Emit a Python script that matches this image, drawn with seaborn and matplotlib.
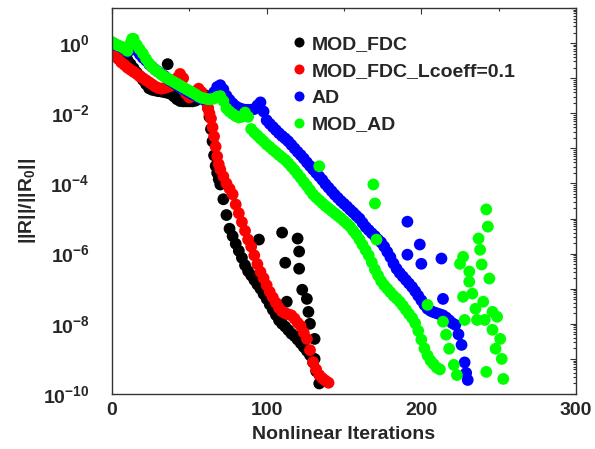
"""
Residual convergence history: ||R||/||R0|| vs nonlinear iterations
"""

import numpy as np
import pandas as pd
import seaborn as sns
import matplotlib.pyplot as plt
from matplotlib.ticker import MultipleLocator, LogLocator, FuncFormatter, NullFormatter

# Series names and colours
labels = ['MOD_FDC', 'MOD_FDC_Lcoeff=0.1', 'AD', 'MOD_AD']
colors = ['#000000', '#ff0000', '#0000ff', '#00ff00']

# MOD_FDC - main curve (iteration, log10 residual)
fdc_x = [0, 2, 4, 6, 8, 10, 12, 14, 16, 18, 20, 22, 24, 26, 28, 30, 32, 34, 36, 38,
         40, 42, 44, 46, 48, 50, 52, 54, 56, 58, 60, 61, 62, 63, 64, 65, 66, 67, 68, 69,
         70, 72, 74, 76, 78, 80, 82, 84, 86, 88, 90, 92, 94, 96, 98, 100, 102, 104, 106, 108,
         110, 112, 114, 116, 118, 120, 122, 124, 126, 128, 130, 132, 134]
fdc_log = [0.0, -0.05, -0.12, -0.22, -0.35, -0.48, -0.6, -0.72, -0.84, -0.94,
           -1.05, -1.17, -1.29, -1.33, -1.35, -1.37, -1.38, -1.4, -1.42, -1.45,
           -1.52, -1.6, -1.65, -1.66, -1.66, -1.66, -1.66, -1.64, -1.58, -1.5,
           -1.48, -1.62, -1.85, -2.1, -2.45, -2.8, -3.2, -3.5, -3.7, -3.88,
           -4.03, -4.45, -4.9, -5.29, -5.5, -5.72, -5.92, -6.12, -6.33, -6.5,
           -6.62, -6.75, -6.88, -7.0, -7.15, -7.29, -7.45, -7.6, -7.75, -7.9,
           -8.0, -8.08, -8.18, -8.28, -8.35, -8.45, -8.55, -8.66, -8.77, -8.89,
           -9.1, -9.35, -9.7]
# MOD_FDC - scattered iterations
fdc_out_x = [36, 95, 110, 120, 121, 112, 121, 123, 126, 127, 128, 131, 113, 131]
fdc_out_log = [-0.6, -5.6, -5.4, -5.57, -5.94, -6.26, -6.43, -7.03, -7.29, -7.66,
               -8.0, -8.43, -7.37, -9.0]

# MOD_FDC_Lcoeff=0.1
lc_x = [0, 1, 2, 4, 6, 8, 10, 12, 14, 16, 18, 20, 22, 24, 26, 28, 30, 32, 34, 36,
        38, 40, 42, 44, 46, 48, 50, 52, 54, 56, 58, 60, 61, 62, 63, 64, 65, 66, 67, 68,
        69, 70, 72, 74, 76, 78, 80, 82, 84, 86, 88, 90, 92, 94, 96, 98, 100, 102, 104, 106,
        108, 110, 112, 114, 116, 118, 120, 122, 124, 126, 128, 130, 132, 134, 136, 138, 140]
lc_log = [0.0, -0.15, -0.28, -0.45, -0.55, -0.62, -0.7, -0.76, -0.82, -0.88,
          -0.95, -1.0, -1.06, -1.12, -1.18, -1.24, -1.28, -1.3, -1.28, -1.25,
          -1.22, -1.15, -1.0, -0.88, -1.0, -1.45, -1.55, -1.5, -1.4, -1.3,
          -1.4, -1.6, -1.68, -1.85, -2.0, -2.15, -2.4, -2.66, -2.95, -3.23,
          -3.45, -3.6, -3.8, -4.0, -4.15, -4.31, -4.6, -4.85, -5.1, -5.35,
          -5.6, -5.8, -6.05, -6.3, -6.52, -6.7, -6.9, -7.09, -7.25, -7.4,
          -7.55, -7.65, -7.7, -7.73, -7.76, -7.85, -7.97, -8.06, -8.25, -8.43,
          -8.75, -9.09, -9.3, -9.46, -9.55, -9.62, -9.68]

# AD - main curve
ad_x = [0, 2, 4, 6, 8, 10, 12, 14, 16, 18, 20, 22, 24, 26, 28, 30, 32, 34, 36, 38,
        40, 42, 44, 46, 48, 50, 52, 54, 56, 58, 60, 62, 64, 66, 68, 70, 72, 74, 76, 78,
        80, 82, 84, 86, 88, 90, 92, 94, 96, 98, 100, 102, 104, 106, 108, 110, 112, 114, 116, 118,
        120, 122, 124, 126, 128, 130, 132, 134, 136, 138, 140, 142, 144, 146, 148, 150, 152, 154, 156, 158,
        160, 162, 164, 166, 168, 170, 172, 174, 176, 178, 180, 182, 184, 186, 188, 190, 192, 194, 196, 198,
        200, 202, 204, 206, 208, 210, 212, 214, 216, 218, 220, 222, 224, 226, 228, 229, 230]
ad_log = [-0.02, -0.05, -0.08, -0.12, -0.17, -0.25, -0.2, -0.1, -0.2, -0.32,
          -0.42, -0.5, -0.6, -0.68, -0.76, -0.82, -0.88, -0.94, -1.02, -1.08,
          -1.14, -1.2, -1.26, -1.31, -1.36, -1.41, -1.46, -1.5, -1.55, -1.59,
          -1.6, -1.6, -1.55, -1.4, -1.25, -1.2, -1.32, -1.5, -1.62, -1.72,
          -1.8, -1.85, -1.88, -1.9, -1.9, -1.9, -1.88, -1.78, -1.69, -1.95,
          -2.2, -2.3, -2.39, -2.48, -2.57, -2.65, -2.72, -2.8, -2.9, -3.0,
          -3.1, -3.19, -3.29, -3.4, -3.5, -3.6, -3.7, -3.8, -3.9, -4.02,
          -4.12, -4.22, -4.32, -4.41, -4.5, -4.58, -4.66, -4.75, -4.83, -4.92,
          -5.0, -5.12, -5.24, -5.33, -5.42, -5.5, -5.6, -5.68, -5.8, -5.95,
          -6.1, -6.28, -6.43, -6.55, -6.65, -6.75, -6.85, -6.95, -7.07, -7.2,
          -7.33, -7.46, -7.57, -7.63, -7.67, -7.7, -7.73, -7.76, -7.82, -7.9,
          -7.98, -8.03, -8.3, -8.6, -9.1, -9.4, -9.6]
ad_out_x = [191, 199, 191, 200, 213, 214]
ad_out_log = [-5.09, -5.74, -6.03, -6.29, -6.14, -7.29]

# MOD_AD - main curve
mad_x = [0, 2, 4, 6, 8, 10, 12, 13, 14, 16, 18, 20, 22, 24, 26, 28, 30, 32, 34, 36,
         38, 40, 42, 44, 46, 48, 50, 52, 54, 56, 58, 60, 62, 64, 66, 68, 70, 72, 74, 76,
         78, 80, 82, 84, 86, 88, 90, 92, 94, 96, 98, 100, 102, 104, 106, 108, 110, 112, 114, 116,
         118, 120, 122, 124, 126, 128, 130, 132, 134, 136, 138, 140, 142, 144, 146, 148, 150, 152, 154, 156,
         158, 160, 162, 164, 166, 168, 170, 172, 174, 176, 178, 180, 182, 184, 186, 188, 190, 192, 194, 196,
         198, 200, 202, 204, 206, 208, 210, 212]
mad_log = [0.03, -0.02, -0.07, -0.1, -0.15, -0.22, 0.0, 0.12, 0.12, -0.05,
           -0.18, -0.3, -0.45, -0.58, -0.68, -0.76, -0.83, -0.9, -0.96, -1.01,
           -1.06, -1.11, -1.16, -1.21, -1.26, -1.31, -1.36, -1.41, -1.46, -1.52,
           -1.56, -1.58, -1.6, -1.6, -1.58, -1.53, -1.51, -1.65, -1.86, -1.95,
           -2.02, -2.08, -2.12, -2.1, -1.98, -2.1, -2.45, -2.55, -2.63, -2.72,
           -2.8, -2.89, -2.96, -3.04, -3.11, -3.19, -3.26, -3.33, -3.42, -3.52,
           -3.62, -3.73, -3.84, -3.96, -4.07, -4.19, -4.31, -4.4, -4.48, -4.56,
           -4.64, -4.71, -4.78, -4.85, -4.92, -4.99, -5.07, -5.15, -5.23, -5.35,
           -5.46, -5.6, -5.75, -5.9, -6.05, -6.25, -6.45, -6.62, -6.78, -6.9,
           -7.0, -7.1, -7.2, -7.28, -7.37, -7.48, -7.6, -7.72, -7.83, -7.98,
           -8.2, -8.45, -8.7, -8.9, -9.05, -9.15, -9.25, -9.3]
# MOD_AD - scattered iterations
mad_out_x = [134, 169, 170, 171, 204, 214, 216, 218, 221, 223,
             225, 227, 227, 228, 231, 231, 233, 235, 236, 237,
             238, 239, 240, 241, 242, 242, 243, 244, 246, 246,
             248, 249, 251, 252, 253]
mad_out_log = [-3.51, -4.03, -4.57, -5.6, -7.46, -7.94, -8.31, -8.71, -9.17, -9.46,
               -6.29, -6.09, -7.23, -7.89, -6.51, -6.8, -7.14, -7.57, -7.89, -5.57,
               -5.89, -6.31, -7.37, -7.89, -4.74, -9.37, -5.23, -6.71, -7.66, -8.17,
               -8.71, -7.8, -8.43, -9.0, -9.57]

# Build long-form table (draw order: black, red, blue, green on top)
frames = []
for name, xs, ls in [(labels[0], fdc_x + fdc_out_x, fdc_log + fdc_out_log),
                     (labels[1], lc_x, lc_log),
                     (labels[2], ad_x + ad_out_x, ad_log + ad_out_log),
                     (labels[3], mad_x + mad_out_x, mad_log + mad_out_log)]:
    frames.append(pd.DataFrame({'iter': xs, 'res': 10.0 ** np.array(ls), 'case': name}))
df = pd.concat(frames, ignore_index=True)

sns.set_style('white')
plt.rcParams['font.family'] = ['Liberation Sans', 'DejaVu Sans']
plt.rcParams['font.weight'] = 'bold'
plt.rcParams['mathtext.fontset'] = 'custom'
plt.rcParams['mathtext.rm'] = 'Liberation Sans:bold'
plt.rcParams['mathtext.bf'] = 'Liberation Sans:bold'
plt.rcParams['mathtext.it'] = 'Liberation Sans:bold'
plt.rcParams['mathtext.default'] = 'bf'

fig = plt.figure(figsize=(5.95, 4.49), dpi=100)
ax = fig.add_axes([112 / 595, 55 / 449, 464 / 595, 386 / 449])

sns.scatterplot(data=df, x='iter', y='res', hue='case', hue_order=labels,
                palette=dict(zip(labels, colors)), s=72, linewidth=0,
                edgecolor='none', ax=ax)

ax.set_yscale('log')
ax.set_xlim(0, 300)
ax.set_ylim(1e-10, 10)

ax.xaxis.set_major_locator(MultipleLocator(100))
ax.xaxis.set_minor_locator(MultipleLocator(50))
ax.yaxis.set_major_locator(LogLocator(base=10, numticks=20))
ax.yaxis.set_minor_locator(LogLocator(base=10, subs=np.arange(2, 10), numticks=20))
ax.yaxis.set_major_formatter(FuncFormatter(
    lambda v, pos: r'$10^{%d}$' % round(np.log10(v)) if round(np.log10(v)) % 2 == 0 else ''))
ax.yaxis.set_minor_formatter(NullFormatter())

ax.tick_params(which='both', direction='in', top=True, right=True, color='#333333', width=0.8)
ax.tick_params(which='major', length=4, labelsize=14)
ax.tick_params(which='minor', length=2.5)
ax.tick_params(axis='y', pad=16)
ax.tick_params(axis='x', pad=6)
for sp in ax.spines.values():
    sp.set_color('#333333')
    sp.set_linewidth(1)

ax.set_xlabel('Nonlinear Iterations', fontsize=14, fontweight='bold', labelpad=5)
ax.set_ylabel(r'||R||/||R$_0$||', fontsize=14, fontweight='bold', labelpad=4)

handles, _ = ax.get_legend_handles_labels()
ax.legend(handles, labels, loc='upper left', bbox_to_anchor=(0.37, 0.955),
          frameon=False, markerscale=0.85, handlelength=0.6,
          handletextpad=0.35, labelspacing=0.48, borderpad=0,
          prop={'weight': 'bold', 'size': 14})

fig.savefig('out.png', dpi=100)
